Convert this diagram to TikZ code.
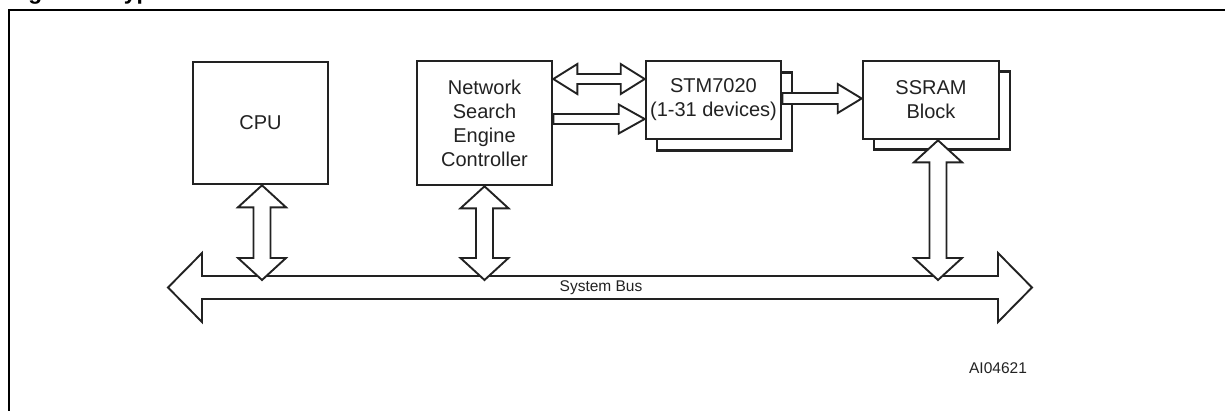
\documentclass[tikz,border=0pt]{standalone}
\usepackage{fontspec}
\setmainfont{Liberation Sans}
\usetikzlibrary{calc}
\definecolor{ink}{HTML}{222222}
\tikzset{
  box/.style={draw=ink, line width=2.6pt, fill=white, inner sep=0pt, align=center,
              font=\fontsize{20}{24}\selectfont, text=ink},
  blk/.style={draw=ink, line width=1.9pt, fill=white, line join=miter},
  small/.style={font=\fontsize{15.5}{18}\selectfont, text=ink, inner sep=0pt}
}
% horizontal double block arrow: left tip, right tip, shaft half, head half, head length
\newcommand\hdblk[5]{%
  \draw[blk] let \p1=(#1), \p2=(#2) in
   (\x1,\y1) -- (\x1+#5,\y1+#4) -- (\x1+#5,\y1+#3) -- (\x2-#5,\y1+#3) -- (\x2-#5,\y1+#4)
   -- (\x2,\y1) -- (\x2-#5,\y1-#4) -- (\x2-#5,\y1-#3) -- (\x1+#5,\y1-#3) -- (\x1+#5,\y1-#4) -- cycle;}
% horizontal single block arrow: tail, tip, shaft half, head half, head length
\newcommand\hsblk[5]{%
  \draw[blk] let \p1=(#1), \p2=(#2) in
   (\x1,\y1+#3) -- (\x2-#5,\y1+#3) -- (\x2-#5,\y1+#4) -- (\x2,\y1)
   -- (\x2-#5,\y1-#4) -- (\x2-#5,\y1-#3) -- (\x1,\y1-#3) -- cycle;}
% vertical double block arrow: top tip, bottom tip, shaft half, head half, head length
\newcommand\vdblk[5]{%
  \draw[blk] let \p1=(#1), \p2=(#2) in
   (\x1,\y1) -- (\x1+#4,\y1-#5) -- (\x1+#3,\y1-#5) -- (\x1+#3,\y2+#5) -- (\x1+#4,\y2+#5)
   -- (\x1,\y2) -- (\x1-#4,\y2+#5) -- (\x1-#3,\y2+#5) -- (\x1-#3,\y1-#5) -- (\x1-#4,\y1-#5) -- cycle;}
\begin{document}
\begin{tikzpicture}[x=1pt, y=-1pt]
\useasboundingbox (0,0) rectangle (1225,410);
\clip (0,0) rectangle (1225,410);
% title (cut off at top) and frame
\node[anchor=base west, inner sep=0pt, font=\bfseries\fontsize{22.8}{26}\selectfont] (title) at (8,-0.6) {Figure 1. Typical};
\draw[line width=2.6pt] (9,415) -- (9,10) -- (1230,10);
% boxes
\node[box, minimum width=135pt, minimum height=122pt] (cpu) at (260.5,123) {CPU};
\node[box, minimum width=135pt, minimum height=124pt] (nsec) at (484.5,123) {Network\\Search\\Engine\\Controller};
\node[box, minimum width=135pt, minimum height=78pt] (stmback) at (724.5,111.5) {};
\node[box, minimum width=135pt, minimum height=78pt] (stm) at (713.5,100) {STM7020\\(1-31 devices)};
\node[box, minimum width=136pt, minimum height=78pt] (ssramback) at (942,110.5) {};
\node[box, minimum width=136pt, minimum height=78pt] (ssram) at (931,100) {SSRAM\\Block};
% horizontal block arrows
\coordinate (nsA) at (nsec.east |- 0,79);
\coordinate (stA) at (stm.west |- 0,79);
\hdblk{nsA}{stA}{5pt}{15pt}{24pt}
\coordinate (nsB) at (nsec.east |- 0,119);
\coordinate (stB) at (stm.west |- 0,119);
\hsblk{nsB}{stB}{5pt}{14.5pt}{26pt}
\coordinate (stC) at (stm.east |- 0,98.5);
\coordinate (ssC) at (ssram.west |- 0,98.5);
\hsblk{stC}{ssC}{5.5pt}{14.5pt}{24pt}
% system bus
\coordinate (busL) at (168,287.5);
\coordinate (busR) at (1032,287.5);
\hdblk{busL}{busR}{11.5pt}{34.5pt}{34pt}
\node[small] (buslabel) at (601,288) {System Bus};
% vertical block arrows to the bus
\coordinate (cpuT) at ([xshift=1.5pt]cpu.south);
\coordinate (cpuB) at (cpuT |- 0,280);
\vdblk{cpuT}{cpuB}{8.5pt}{24pt}{22pt}
\coordinate (nsT) at (nsec.south);
\coordinate (nsBb) at (nsT |- 0,280);
\vdblk{nsT}{nsBb}{8.5pt}{24pt}{22pt}
\coordinate (ssT) at ([xshift=7pt]ssram.south);
\coordinate (ssBb) at (ssT |- 0,280);
\vdblk{ssT}{ssBb}{8.5pt}{24pt}{22pt}
% figure code
\node[small] (code) at (998,368) {AI04621};
\end{tikzpicture}
\end{document}
